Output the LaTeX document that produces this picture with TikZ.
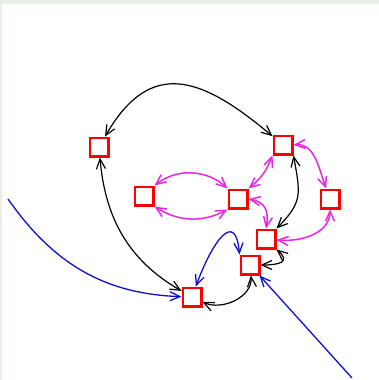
\documentclass[tikz,border=0pt]{standalone}
\usepackage{tikz}
\usepackage{xcolor}
\usetikzlibrary{arrows.meta, positioning}
\definecolor{PaleGreen}{HTML}{E6F0E4}
\definecolor{Mag}{HTML}{E628E6}
\definecolor{Blu}{HTML}{1010D0}

\begin{document}
\begin{tikzpicture}[
    x=1pt, y=1pt,
    >={Straight Barb[length=10pt,width=9pt]},
    box/.style={
        draw=red,
        fill=white,
        line width=2.5pt,
        minimum size=18.5pt,
        inner sep=0pt
    },
    every edge/.style={draw, line width=1.2pt, <->},
    blk/.style={draw=black},
    pink/.style={draw=Mag, line width=1.5pt},
    flow/.style={draw=Blu, line width=1.3pt}
]

% frame
\useasboundingbox (0,0) rectangle (379,-380);
\fill[PaleGreen] (0,0) rectangle (379,-380);
\fill[white] (2,-4) rectangle (379,-380);

\node[box] (A) at (99,-147) {};
\node[box] (B) at (283,-145) {};
\node[box] (C) at (144,-196) {};
\node[box] (D) at (238,-199) {};
\node[box] (E) at (330,-199) {};
\node[box] (F) at (266,-239) {};
\node[box] (G) at (250,-265) {};
\node[box] (H) at (192,-297) {};

\coordinate (inL) at (8,-199);
\coordinate (inR) at (352,-378);

% black links
\path (A) edge[blk, out=60, in=140, looseness=1.4] (B);
\path (A) edge[blk, out=-85, in=150] (H);
\path (B.south east) edge[blk, out=-80, in=45, looseness=1.3] (F.north east);
\path (G.east) edge[blk, out=0, in=-40, looseness=2.2] (F.south east);
\path (H) edge[blk, out=-25, in=-85] (G);

% magenta links
\path (C.north east) edge[pink, bend left=40] (D.north west);
\path (C.south east) edge[pink, bend right=30] (D.south west);
\path (D.north east) edge[pink, bend right=15] (B.south west);
\path (D.east) edge[pink, out=-10, in=80, looseness=1.3] (F.north);
\path (B.east) edge[pink, out=5, in=110] (E);
\path (E) edge[pink, out=-90, in=-5] (F);

% blue links
\draw[flow, ->] (inL) to[out=-55, in=178] (H);
\draw[flow, ->] (inR) -- (G);
\path (H) edge[flow, out=70, in=95, looseness=2.2] (G.north west);

\end{tikzpicture}
\end{document}
